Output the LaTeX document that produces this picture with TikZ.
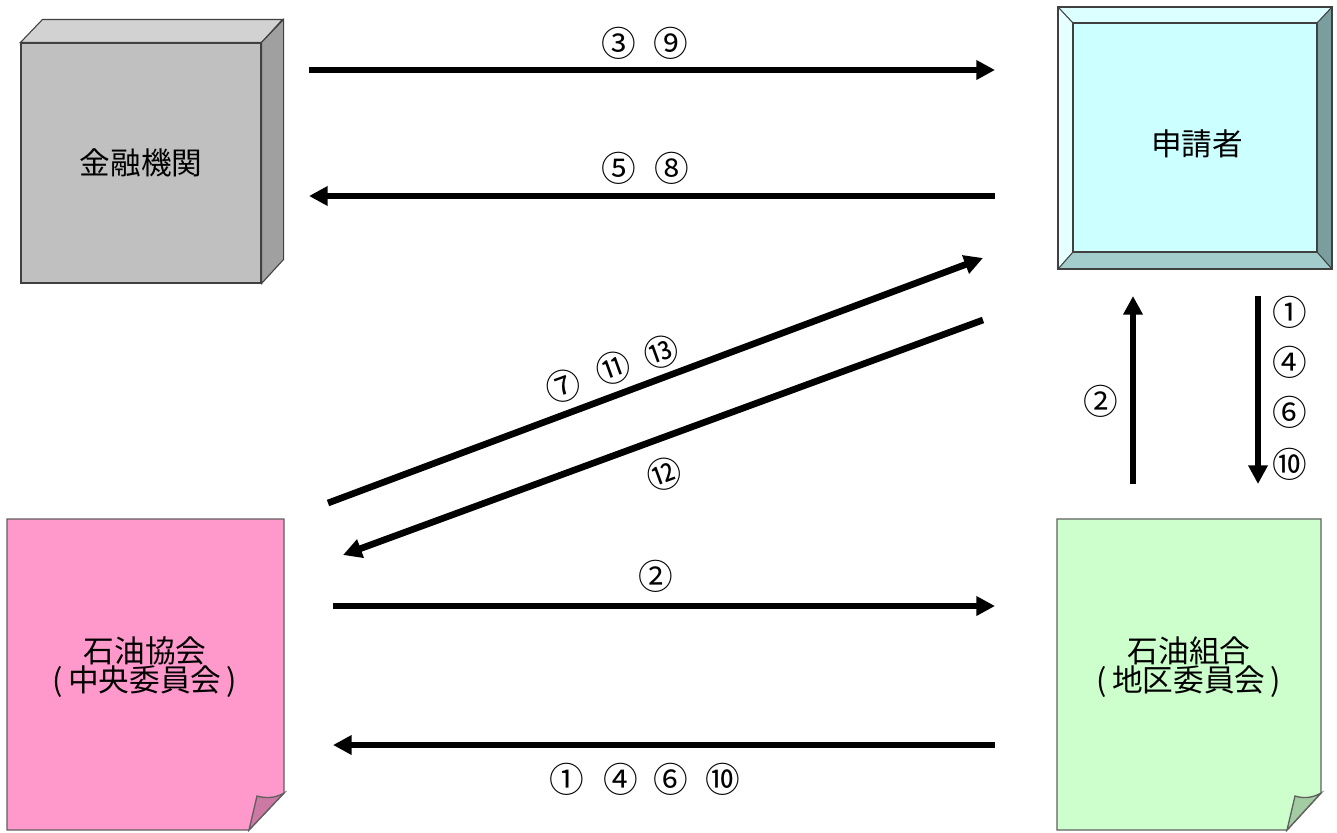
\documentclass[tikz,border=0pt]{standalone}
\usepackage{fontspec}
\setmainfont{Noto Sans CJK JP}
\usetikzlibrary{arrows.meta}
\definecolor{cubefront}{HTML}{C0C0C0}
\definecolor{cubetop}{HTML}{D2D2D2}
\definecolor{cubeside}{HTML}{A0A0A0}
\definecolor{cubeedge}{HTML}{404040}
\definecolor{bvinner}{HTML}{CCFFFF}
\definecolor{bvtop}{HTML}{DCFFFF}
\definecolor{bvleft}{HTML}{E6FFFF}
\definecolor{bvright}{HTML}{7A9E9E}
\definecolor{bvbottom}{HTML}{A3CCCC}
\definecolor{pinknote}{HTML}{FF99CC}
\definecolor{pinkflap}{HTML}{CC7AA3}
\definecolor{greennote}{HTML}{CCFFCC}
\definecolor{greenflap}{HTML}{A3CCA3}
\definecolor{noteedge}{HTML}{606060}
\begin{document}
\begin{tikzpicture}[x=0.75pt,y=-0.75pt,
  flow/.style={line width=5pt,-{Triangle[width=14pt,length=14pt]}},
  num/.style={font=\fontsize{26}{26}\selectfont,inner sep=0pt},
  lbl/.style={font=\fontsize{23}{23}\selectfont,align=center,inner sep=0pt},
  notebody/.style={draw=noteedge,line width=1pt},
  thinedge/.style={draw=cubeedge,line width=0.8pt}]
\useasboundingbox (0,0) rectangle (1337,832);
\fill[white] (0,0) rectangle (1337,832);

% ---- cube: financial institution
\node[thinedge,fill=cubefront,minimum width=180pt,minimum height=180pt,lbl] (bank) at (141,163) {金融機関};
\draw[thinedge,fill=cubetop] (bank.north west) -- ++(22,-23) -- ++(240,0) -- (bank.north east) -- cycle;
\draw[thinedge,fill=cubeside] (bank.north east) -- ++(22,-23) -- ++(0,240) -- (bank.south east) -- cycle;

% ---- bevel: applicant
\fill[bvtop] (1058,7) -- (1332,7) -- (1317,23) -- (1073,23) -- cycle;
\fill[bvleft] (1058,7) -- (1073,23) -- (1073,252) -- (1058,269) -- cycle;
\fill[bvright] (1332,7) -- (1332,269) -- (1317,252) -- (1317,23) -- cycle;
\fill[bvbottom] (1058,269) -- (1332,269) -- (1317,252) -- (1073,252) -- cycle;
\draw[thinedge,fill=bvinner] (1073,23) rectangle (1317,252);
\draw[thinedge] (1058,7) rectangle (1332,269);
\draw[thinedge] (1058,7) -- (1073,23) (1332,7) -- (1317,23) (1058,269) -- (1073,252) (1332,269) -- (1317,252);
\node[lbl] (applicant) at (1197,144) {申請者};

% ---- note: association
\draw[notebody,fill=pinknote] (7,519) -- (284,519) -- (284,793) -- (249,830) -- (7,830) -- cycle;
\draw[notebody,fill=pinkflap] (284,793) .. controls (274,799) and (264,798) .. (257,796) -- (249,830) -- cycle;
\node[lbl] (kyokai) at (145,667) {石油協会\\[-1pt](\,中央委員会\,)};

% ---- note: union
\draw[notebody,fill=greennote] (1057,519) -- (1321,519) -- (1321,793) -- (1287,830) -- (1057,830) -- cycle;
\draw[notebody,fill=greenflap] (1321,793) .. controls (1311,799) and (1301,798) .. (1295,796) -- (1287,830) -- cycle;
\node[lbl] (kumiai) at (1189,667) {石油組合\\[-1pt](\,地区委員会\,)};

% ---- connector end points
\coordinate (a1s) at (309,70);   \coordinate (a1e) at (995,70);
\coordinate (a2s) at (995,196);  \coordinate (a2e) at (309,196);
\coordinate (a3s) at (328,503);  \coordinate (a3e) at (983,258);
\coordinate (a4s) at (983,320);  \coordinate (a4e) at (343,555);
\coordinate (a5s) at (333,606);  \coordinate (a5e) at (995,606);
\coordinate (a6s) at (995,745);  \coordinate (a6e) at (333,745);
\coordinate (a7s) at (1133,484); \coordinate (a7e) at (1133,296);
\coordinate (a8s) at (1258,296); \coordinate (a8e) at (1258,484);

\draw[flow] (a1s) -- (a1e);
\draw[flow] (a2s) -- (a2e);
\draw[flow] (a3s) -- (a3e);
\draw[flow] (a4s) -- (a4e);
\draw[flow] (a5s) -- (a5e);
\draw[flow] (a6s) -- (a6e);
\draw[flow] (a7s) -- (a7e);
\draw[flow] (a8s) -- (a8e);

% ---- step labels
\node[num] (l3) at (619,43) {③};
\node[num] (l9) at (671,43) {⑨};
\node[num] (l5) at (619,168) {⑤};
\node[num] (l8) at (672,168) {⑧};
\node[num,rotate=20] (l7) at (563,386) {⑦};
\node[num,rotate=20] (l11) at (613,368) {⑪};
\node[num,rotate=20] (l13) at (661,352) {⑬};
\node[num,rotate=20] (l12) at (664,474) {⑫};
\node[num] (l2a) at (656,576) {②};
\node[num] (l1a) at (567,779) {①};
\node[num] (l4a) at (621,779) {④};
\node[num] (l6a) at (671,779) {⑥};
\node[num] (l10a) at (723,779) {⑩};
\node[num] (l2b) at (1101,401) {②};
\node[num] (l1b) at (1290,312) {①};
\node[num] (l4b) at (1290,362) {④};
\node[num] (l6b) at (1290,412) {⑥};
\node[num] (l10b) at (1290,464) {⑩};
\end{tikzpicture}
\end{document}
